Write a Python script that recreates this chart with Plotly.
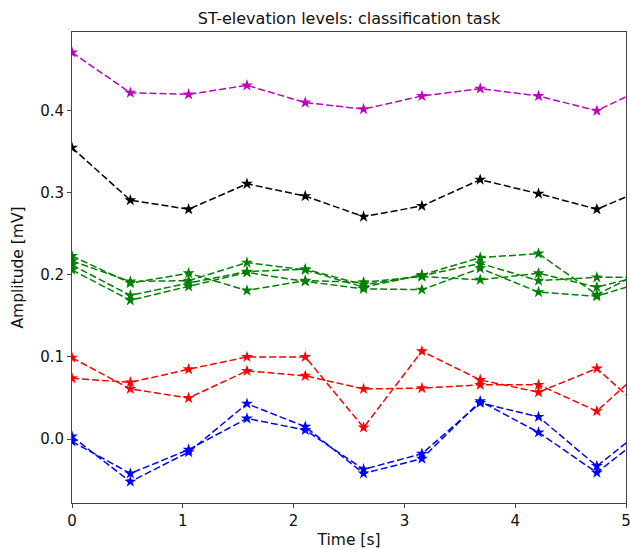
import numpy as np
import plotly.graph_objects as go

# time axis: 11 samples, the last one falls just outside the visible range
time_s = np.arange(11) * 10 / 19

magenta = [0.471, 0.422, 0.420, 0.431, 0.410, 0.402, 0.418, 0.427, 0.418, 0.400, 0.434]
black = [0.355, 0.291, 0.280, 0.311, 0.296, 0.271, 0.284, 0.316, 0.299, 0.280, 0.310]

green_1 = [0.223, 0.190, 0.202, 0.181, 0.193, 0.191, 0.198, 0.194, 0.202, 0.185, 0.203]
green_2 = [0.217, 0.192, 0.193, 0.215, 0.206, 0.185, 0.200, 0.221, 0.226, 0.176, 0.212]
green_3 = [0.212, 0.175, 0.190, 0.204, 0.207, 0.188, 0.199, 0.214, 0.193, 0.197, 0.197]
green_4 = [0.206, 0.169, 0.186, 0.203, 0.192, 0.183, 0.182, 0.208, 0.179, 0.174, 0.196]

red_1 = [0.074, 0.069, 0.085, 0.100, 0.100, 0.014, 0.107, 0.072, 0.057, 0.086, 0.022]
red_2 = [0.099, 0.061, 0.050, 0.083, 0.077, 0.061, 0.062, 0.066, 0.066, 0.034, 0.098]

blue_1 = [0.003, -0.052, -0.016, 0.043, 0.015, -0.042, -0.024, 0.046, 0.008, -0.041, 0.015]
blue_2 = [-0.003, -0.042, -0.013, 0.025, 0.011, -0.037, -0.018, 0.044, 0.027, -0.033, 0.023]

series = [
    (magenta, '#bf00bf'),
    (black, '#000000'),
    (green_1, '#008000'), (green_2, '#008000'), (green_3, '#008000'), (green_4, '#008000'),
    (red_1, '#ff0000'), (red_2, '#ff0000'),
    (blue_1, '#0000ff'), (blue_2, '#0000ff'),
]

fig = go.Figure()
for vals, col in series:
    fig.add_trace(go.Scatter(
        x=time_s, y=vals, mode='lines+markers',
        line=dict(color=col, width=1.5, dash='7px,3px'),
        marker=dict(symbol='star', size=9, color=col, line=dict(width=0)),
        showlegend=False, cliponaxis=True
    ))

axis_style = dict(
    showline=True, linecolor='#444', linewidth=1, mirror=True,
    ticks='outside', ticklen=4, tickcolor='#444', tickwidth=1,
    showgrid=False, zeroline=False, ticklabeloverflow='allow', automargin=False,
    tickfont=dict(family='DejaVu Sans', size=15, color='#111'),
)

fig.update_layout(
    width=630, height=549,
    paper_bgcolor='white', plot_bgcolor='white',
    margin=dict(l=72, r=4, t=32, b=46),
    title=dict(text='ST-elevation levels: classification task', x=0.5, xanchor='center',
               xref='paper', yref='container', y=0.967, yanchor='middle',
               font=dict(family='DejaVu Sans', size=16, color='#111')),
    xaxis=dict(range=[0, 5], tickvals=[0, 1, 2, 3, 4, 5], ticktext=['0', '1', '2', '3', '4', '5'],
               title=dict(text='Time [s]', font=dict(family='DejaVu Sans', size=15.5, color='#111'), standoff=5),
               **axis_style),
    yaxis=dict(range=[-0.078, 0.496], tickvals=[0.0, 0.1, 0.2, 0.3, 0.4],
               ticktext=['0.0', '0.1', '0.2', '0.3', '0.4'],
               title=dict(text='Amplitude [mV]', font=dict(family='DejaVu Sans', size=15.5, color='#111'), standoff=12),
               **axis_style),
)

# drop the default body margin so the figure sits at the window's top-left corner
fig.write_html("out.html", config=dict(displayModeBar=False),
               post_script="document.body.style.margin='0';document.body.style.overflow='hidden';")
